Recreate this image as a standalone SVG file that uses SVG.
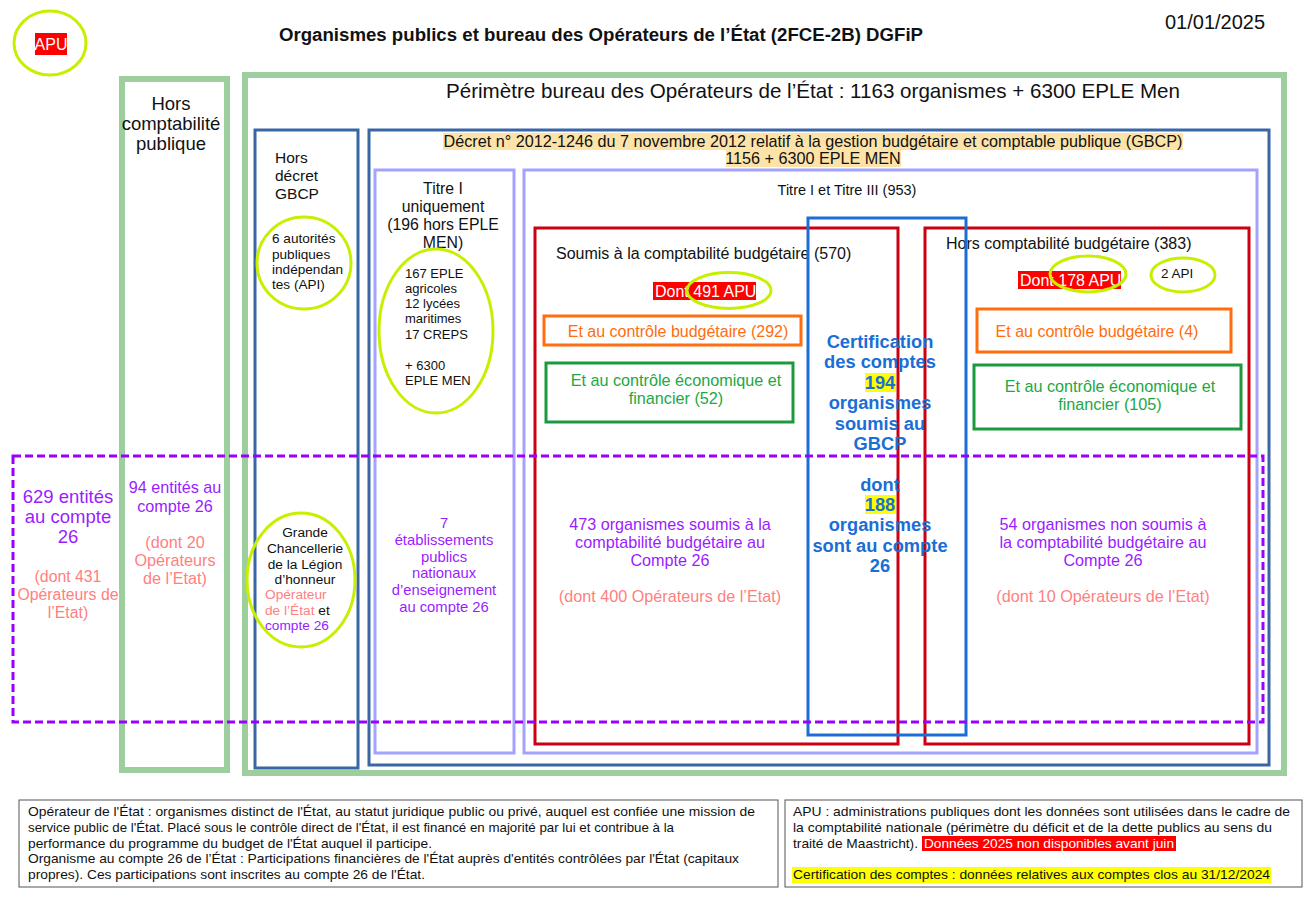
<svg xmlns="http://www.w3.org/2000/svg" width="1312" height="903" viewBox="0 0 1312 903">
<style>
text{font-family:"Liberation Sans",Arial,sans-serif;fill:#111}
.gbox{fill:none;stroke:#9dce9d;stroke-width:6}
.bbox{fill:none;stroke:#3a66a6;stroke-width:3}
.lbox{fill:none;stroke:#a3a3ff;stroke-width:3}
.rbox{fill:none;stroke:#cc0011;stroke-width:3}
.obox{fill:none;stroke:#ff6d0e;stroke-width:3}
.grbox{fill:none;stroke:#1a9a3c;stroke-width:3}
.cbox{fill:none;stroke:#1a6ed6;stroke-width:3}
.dash{fill:none;stroke:#9900ff;stroke-width:3;stroke-dasharray:8 4}
.ell{fill:none;stroke:#c6f000;stroke-width:3}
.c{text-anchor:middle}
.pur{fill:#9b1cff}
.pink{fill:#ff8080}
.or{fill:#ff6d0e}
.gr{fill:#22a843}
.cert{fill:#1a6ed6;font-weight:bold;font-size:18.3px}
.wh{fill:#fff}
.leg{font-size:13px}
</style>

<g id="apu">
<ellipse class="ell" cx="50" cy="43" rx="36" ry="32"/>
<rect x="35" y="33" width="32" height="22" fill="#ff0000"/>
<text class="c wh" x="51" y="50" font-size="16">APU</text>
</g>

<g id="title">
<text class="c" x="601" y="41" font-size="17.5" font-weight="bold" textLength="644" lengthAdjust="spacingAndGlyphs">Organismes publics et bureau des Opérateurs de l’État (2FCE-2B) DGFiP</text>
<text x="1165" y="29" font-size="20">01/01/2025</text>
</g>

<g id="hors-compta-publique">
<rect class="gbox" x="122" y="79" width="105" height="691"/>
<text class="c" x="171" y="110" font-size="18.5">Hors</text>
<text class="c" x="171" y="130" font-size="18.5">comptabilité</text>
<text class="c" x="171" y="150" font-size="18.5">publique</text>
</g>

<g id="perimetre">
<rect class="gbox" x="245" y="75" width="1039" height="698"/>
<text class="c" x="813" y="98" font-size="20.6">Périmètre bureau des Opérateurs de l’État : 1163 organismes + 6300 EPLE Men</text>
</g>

<g id="hors-decret">
<rect class="bbox" x="255" y="130" width="103" height="638"/>
<text x="275" y="163" font-size="15.5">Hors</text>
<text x="275" y="181" font-size="15.5">décret</text>
<text x="275" y="199" font-size="15.5">GBCP</text>
</g>

<g id="decret">
<rect class="bbox" x="369" y="130" width="900" height="635"/>
<rect x="443" y="133" width="740" height="17" fill="#fde3a8"/>
<rect x="726" y="150" width="175" height="17" fill="#fde3a8"/>
<text class="c" x="813" y="146.5" font-size="16.2">Décret n° 2012-1246 du 7 novembre 2012 relatif à la gestion budgétaire et comptable publique (GBCP)</text>
<text class="c" x="813" y="163.5" font-size="16.2">1156 + 6300 EPLE MEN</text>
</g>

<g id="titre1">
<rect class="lbox" x="375" y="170" width="139" height="583"/>
<text class="c" x="443" y="194" font-size="15.8">Titre I</text>
<text class="c" x="443" y="212" font-size="15.8">uniquement</text>
<text class="c" x="443" y="230" font-size="15.8">(196 hors EPLE</text>
<text class="c" x="443" y="248" font-size="15.8">MEN)</text>
</g>

<g id="titre13">
<rect class="lbox" x="524" y="170" width="733" height="583"/>
<text class="c" x="847" y="195" font-size="14.5">Titre I et Titre III (953)</text>
</g>

<g id="soumis">
<rect class="rbox" x="535" y="228" width="363" height="516"/>
<text x="556" y="259" font-size="16">Soumis à la comptabilité budgétaire (570)</text>
<rect x="653" y="282" width="103" height="18" fill="#ff0000"/>
<text x="655" y="296.5" font-size="16" class="wh">Dont 491 APU</text>
</g>

<g id="hors-compta-budg">
<rect class="rbox" x="925" y="228" width="324" height="516"/>
<text x="946" y="249" font-size="16">Hors comptabilité budgétaire (383)</text>
<rect x="1018" y="271" width="103" height="18" fill="#ff0000"/>
<text x="1020" y="285.5" font-size="16" class="wh">Dont 178 APU</text>
<text x="1161" y="278" font-size="13.5">2 API</text>
</g>

<g id="ctrl-budg-292">
<rect class="obox" x="544" y="316" width="257" height="29"/>
<text class="c or" x="678" y="337" font-size="16">Et au contrôle budgétaire (292)</text>
</g>

<g id="ctrl-eco-52">
<rect class="grbox" x="546" y="363" width="247" height="59"/>
<text class="c gr" x="676" y="386" font-size="16.2">Et au contrôle économique et</text>
<text class="c gr" x="676" y="404" font-size="16.2">financier (52)</text>
</g>

<g id="ctrl-budg-4">
<rect class="obox" x="977" y="309" width="254" height="43"/>
<text class="c or" x="1097" y="337" font-size="16">Et au contrôle budgétaire (4)</text>
</g>

<g id="ctrl-eco-105">
<rect class="grbox" x="974" y="365" width="267" height="64"/>
<text class="c gr" x="1110" y="392" font-size="16.2">Et au contrôle économique et</text>
<text class="c gr" x="1110" y="410" font-size="16.2">financier (105)</text>
</g>

<g id="certification">
<rect class="cbox" x="808" y="218" width="158" height="517"/>
<rect x="865" y="373" width="31" height="19" fill="#ffff00"/>
<rect x="865" y="495" width="31" height="19" fill="#ffff00"/>
<text class="c cert" x="880" y="348">Certification</text>
<text class="c cert" x="880" y="368">des comptes</text>
<text class="c cert" x="880" y="389">194</text>
<text class="c cert" x="880" y="409">organismes</text>
<text class="c cert" x="880" y="430">soumis au</text>
<text class="c cert" x="880" y="450">GBCP</text>
<text class="c cert" x="880" y="491">dont</text>
<text class="c cert" x="880" y="511">188</text>
<text class="c cert" x="880" y="531">organismes</text>
<text class="c cert" x="880" y="552">sont au compte</text>
<text class="c cert" x="880" y="572">26</text>
</g>

<g id="compte26">
<rect class="dash" x="13" y="456" width="1250" height="266"/>
<text class="c pur" x="68" y="503" font-size="18.5">629 entités</text>
<text class="c pur" x="68" y="523" font-size="18.5">au compte</text>
<text class="c pur" x="68" y="543" font-size="18.5">26</text>
<text class="c pink" x="68" y="582" font-size="15.8">(dont 431</text>
<text class="c pink" x="68" y="600" font-size="15.8">Opérateurs de</text>
<text class="c pink" x="68" y="618" font-size="15.8">l’Etat)</text>
</g>

<g id="c26-hors-compta">
<text class="c pur" x="175" y="493" font-size="16.2">94 entités au</text>
<text class="c pur" x="175" y="512" font-size="16.2">compte 26</text>
<text class="c pink" x="175" y="548" font-size="16.2">(dont 20</text>
<text class="c pink" x="175" y="566" font-size="16.2">Opérateurs</text>
<text class="c pink" x="175" y="584" font-size="16.2">de l’Etat)</text>
</g>

<g id="c26-titre1">
<text class="c pur" x="444" y="528" font-size="14.8">7</text>
<text class="c pur" x="444" y="545" font-size="14.8">établissements</text>
<text class="c pur" x="444" y="562" font-size="14.8">publics</text>
<text class="c pur" x="444" y="578" font-size="14.8">nationaux</text>
<text class="c pur" x="444" y="595" font-size="14.8">d’enseignement</text>
<text class="c pur" x="444" y="612" font-size="14.8">au compte 26</text>
</g>

<g id="c26-soumis">
<text class="c pur" x="670" y="529.5" font-size="16.2">473 organismes soumis à la</text>
<text class="c pur" x="670" y="547.5" font-size="16.2">comptabilité budgétaire au</text>
<text class="c pur" x="670" y="565.5" font-size="16.2">Compte 26</text>
<text class="c pink" x="670" y="601.5" font-size="16.2">(dont 400 Opérateurs de l’Etat)</text>
</g>

<g id="c26-hors">
<text class="c pur" x="1103" y="529.5" font-size="16.2">54 organismes non soumis à</text>
<text class="c pur" x="1103" y="547.5" font-size="16.2">la comptabilité budgétaire au</text>
<text class="c pur" x="1103" y="565.5" font-size="16.2">Compte 26</text>
<text class="c pink" x="1103" y="601.5" font-size="16.2">(dont 10 Opérateurs de l’Etat)</text>
</g>

<g id="api-6">
<ellipse class="ell" cx="304" cy="263" rx="47" ry="46"/>
<text x="272" y="243" font-size="13.6">6 autorités</text>
<text x="272" y="258.5" font-size="13.6">publiques</text>
<text x="272" y="273.5" font-size="13.6">indépendan</text>
<text x="272" y="288.5" font-size="13.6">tes (API)</text>
</g>

<g id="eple">
<ellipse class="ell" cx="436" cy="331" rx="57" ry="82"/>
<text x="405" y="277.5" font-size="13">167 EPLE</text>
<text x="405" y="292.5" font-size="13">agricoles</text>
<text x="405" y="307.5" font-size="13">12 lycées</text>
<text x="405" y="323" font-size="13">maritimes</text>
<text x="405" y="338.5" font-size="13">17 CREPS</text>
<text x="405" y="369.5" font-size="13">+ 6300</text>
<text x="405" y="384.5" font-size="13">EPLE MEN</text>
</g>

<g id="apu-491">
<ellipse class="ell" cx="729" cy="290.5" rx="42" ry="18"/>
</g>

<g id="apu-178">
<ellipse class="ell" cx="1088" cy="274" rx="38" ry="18"/>
</g>

<g id="api-2">
<ellipse class="ell" cx="1183" cy="275" rx="32" ry="17"/>
</g>

<g id="legion">
<ellipse class="ell" cx="301" cy="580" rx="54" ry="67"/>
<text class="c" x="305" y="537" font-size="13.7">Grande</text>
<text class="c" x="305" y="553" font-size="13.7">Chancellerie</text>
<text class="c" x="305" y="569" font-size="13.7">de la Légion</text>
<text class="c" x="305" y="584" font-size="13.7">d’honneur</text>
<text x="265" y="599" font-size="13.7" class="pink">Opérateur</text>
<text x="265" y="615" font-size="13.7"><tspan class="pink">de l’État</tspan> et</text>
<text x="265" y="630" font-size="13.7" class="pur">compte 26</text>
</g>

<g id="legend-left">
<rect x="19" y="800" width="759" height="87" fill="none" stroke="#555" stroke-width="1"/>
<text class="leg" x="28" y="816" textLength="727" lengthAdjust="spacingAndGlyphs">Opérateur de l'État : organismes distinct de l'État, au statut juridique public ou privé, auquel est confiée une mission de</text>
<text class="leg" x="28" y="832" textLength="646" lengthAdjust="spacingAndGlyphs">service public de l'État. Placé sous le contrôle direct de l'État, il est financé en majorité par lui et contribue à la</text>
<text class="leg" x="28" y="848" textLength="404" lengthAdjust="spacingAndGlyphs">performance du programme du budget de l'État auquel il participe.</text>
<text class="leg" x="28" y="863" textLength="711" lengthAdjust="spacingAndGlyphs">Organisme au compte 26 de l’État : Participations financières de l'État auprès d'entités contrôlées par l'État (capitaux</text>
<text class="leg" x="28" y="879" textLength="397" lengthAdjust="spacingAndGlyphs">propres). Ces participations sont inscrites au compte 26 de l'État.</text>
</g>

<g id="legend-right">
<rect x="785" y="800" width="517" height="87" fill="none" stroke="#555" stroke-width="1"/>
<rect x="922" y="836" width="254" height="15" fill="#ff0000"/>
<rect x="792" y="867" width="479" height="16" fill="#ffff00"/>
<text class="leg" x="793" y="816" textLength="497" lengthAdjust="spacingAndGlyphs">APU : administrations publiques dont les données sont utilisées dans le cadre de</text>
<text class="leg" x="793" y="832" textLength="479" lengthAdjust="spacingAndGlyphs">la comptabilité nationale (périmètre du déficit et de la dette publics au sens du</text>
<text class="leg" x="793" y="848" textLength="125" lengthAdjust="spacingAndGlyphs">traité de Maastricht).</text>
<text class="leg wh" x="924" y="848" textLength="250" lengthAdjust="spacingAndGlyphs">Données 2025 non disponibles avant juin</text>
<text class="leg" x="793" y="879" textLength="477" lengthAdjust="spacingAndGlyphs">Certification des comptes : données relatives aux comptes clos au 31/12/2024</text>
</g>
</svg>
